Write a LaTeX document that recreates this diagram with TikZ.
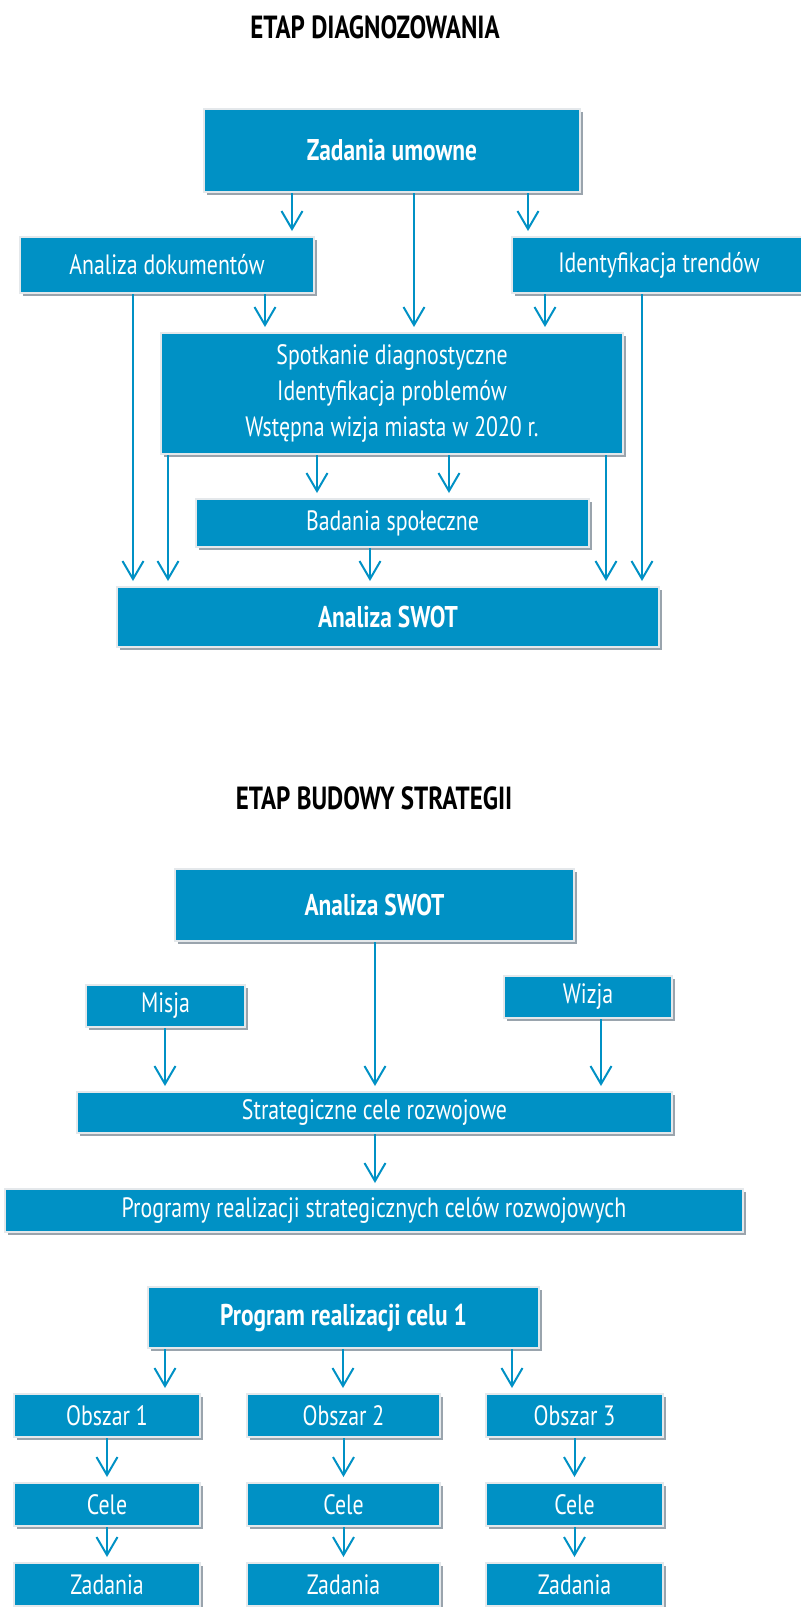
\documentclass[tikz,border=0pt]{standalone}
\usepackage{fontspec}
\setmainfont{PT Sans}[FakeStretch=0.78]
\usetikzlibrary{arrows.meta,shadows}
\definecolor{niebieski}{HTML}{0091C5}
\definecolor{cien}{HTML}{9AA4AD}
\definecolor{obwod}{HTML}{E4E8EB}

\begin{document}
\begin{tikzpicture}[x=0.5pt,y=-0.5pt]
\tikzset{
  blok/.style={fill=niebieski, draw=obwod, line width=1pt, text=white,
    inner sep=0pt, align=center, font=\fontsize{14}{18}\selectfont,
    drop shadow={shadow xshift=1.5pt, shadow yshift=-1.5pt, fill=cien, opacity=1}},
  gruby/.style={font=\fontsize{15}{18}\selectfont\bfseries},
  tytul/.style={font=\fontsize{16}{18}\selectfont\bfseries},
  strz/.style={draw=niebieski, line width=1pt,
    -{Straight Barb[length=9pt,width=10.5pt]}, shorten >=2.5pt}
}
\useasboundingbox (0,0) rectangle (801,1607);

% etap diagnozowania
\node[tytul] (t1) at (375,27) {ETAP DIAGNOZOWANIA};

\node[blok,gruby,minimum width=188pt,minimum height=41.5pt] (zu) at (392,150.5) {Zadania umowne};
\node[blok,minimum width=147pt,minimum height=28pt] (ad) at (167,265) {Analiza dokumentów};
\node[blok,minimum width=147pt,minimum height=28pt] (it) at (659,265) {Identyfikacja trendów};
\node[blok,minimum width=231pt,minimum height=60.5pt] (sp) at (392,393.5)
  {Spotkanie diagnostyczne\\Identyfikacja problemów\\Wstępna wizja miasta w 2020 r.};
\node[blok,minimum width=196.5pt,minimum height=24pt] (bs) at (392.5,523) {Badania społeczne};
\node[blok,gruby,minimum width=271pt,minimum height=30pt] (sw) at (388,617) {Analiza SWOT};

\draw[strz] (zu.south -| 292,0) -- (ad.north -| 292,0);
\draw[strz] (zu.south -| 414,0) -- (sp.north -| 414,0);
\draw[strz] (zu.south -| 528,0) -- (it.north -| 528,0);
\draw[strz] (ad.south -| 133,0) -- (sw.north -| 133,0);
\draw[strz] (ad.south -| 265,0) -- (sp.north -| 265,0);
\draw[strz] (it.south -| 545,0) -- (sp.north -| 545,0);
\draw[strz] (it.south -| 642,0) -- (sw.north -| 642,0);
\draw[strz] (sp.south -| 168,0) -- (sw.north -| 168,0);
\draw[strz] (sp.south -| 317,0) -- (bs.north -| 317,0);
\draw[strz] (sp.south -| 449,0) -- (bs.north -| 449,0);
\draw[strz] (sp.south -| 606,0) -- (sw.north -| 606,0);
\draw[strz] (bs.south -| 370,0) -- (sw.north -| 370,0);

% etap budowy strategii
\node[tytul] (t2) at (374,798) {ETAP BUDOWY STRATEGII};

\node[blok,gruby,minimum width=199.5pt,minimum height=36pt] (sw2) at (374.5,905) {Analiza SWOT};
\node[blok,minimum width=79.5pt,minimum height=21pt] (mi) at (165.5,1006) {Misja};
\node[blok,minimum width=84pt,minimum height=21pt] (wi) at (588,997) {Wizja};
\node[blok,minimum width=297.5pt,minimum height=20.5pt] (sc) at (374.5,1112.5) {Strategiczne cele rozwojowe};
\node[blok,minimum width=369pt,minimum height=21.5pt] (pr) at (374,1210.5)
  {Programy realizacji strategicznych celów rozwojowych};

\draw[strz] (sw2.south -| 375,0) -- (sc.north -| 375,0);
\draw[strz] (mi.south -| 165,0) -- (sc.north -| 165,0);
\draw[strz] (wi.south -| 601,0) -- (sc.north -| 601,0);
\draw[strz] (sc.south -| 375,0) -- (pr.north -| 375,0);

\node[blok,gruby,minimum width=195.5pt,minimum height=30.5pt] (pc) at (343.5,1317.5) {Program realizacji celu 1};
\node[blok,minimum width=93pt,minimum height=21.5pt] (o1) at (107,1415.5) {Obszar 1};
\node[blok,minimum width=96.5pt,minimum height=21.5pt] (o2) at (343.5,1415.5) {Obszar 2};
\node[blok,minimum width=88.5pt,minimum height=21.5pt] (o3) at (574.5,1415.5) {Obszar 3};
\node[blok,minimum width=93pt,minimum height=21.5pt] (c1) at (107,1504.5) {Cele};
\node[blok,minimum width=96.5pt,minimum height=21.5pt] (c2) at (343.5,1504.5) {Cele};
\node[blok,minimum width=88.5pt,minimum height=21.5pt] (c3) at (574.5,1504.5) {Cele};
\node[blok,minimum width=93pt,minimum height=21.5pt] (z1) at (107,1584.5) {Zadania};
\node[blok,minimum width=96.5pt,minimum height=21.5pt] (z2) at (343.5,1584.5) {Zadania};
\node[blok,minimum width=88.5pt,minimum height=21.5pt] (z3) at (574.5,1584.5) {Zadania};

\draw[strz] (pc.south -| 165,0) -- (o1.north -| 165,0);
\draw[strz] (pc.south -| 343,0) -- (o2.north -| 343,0);
\draw[strz] (pc.south -| 512,0) -- (o3.north -| 512,0);
\foreach \i in {1,2,3} {
  \draw[strz] (o\i.south) -- (c\i.north);
  \draw[strz] (c\i.south) -- (z\i.north);
}
\end{tikzpicture}
\end{document}
